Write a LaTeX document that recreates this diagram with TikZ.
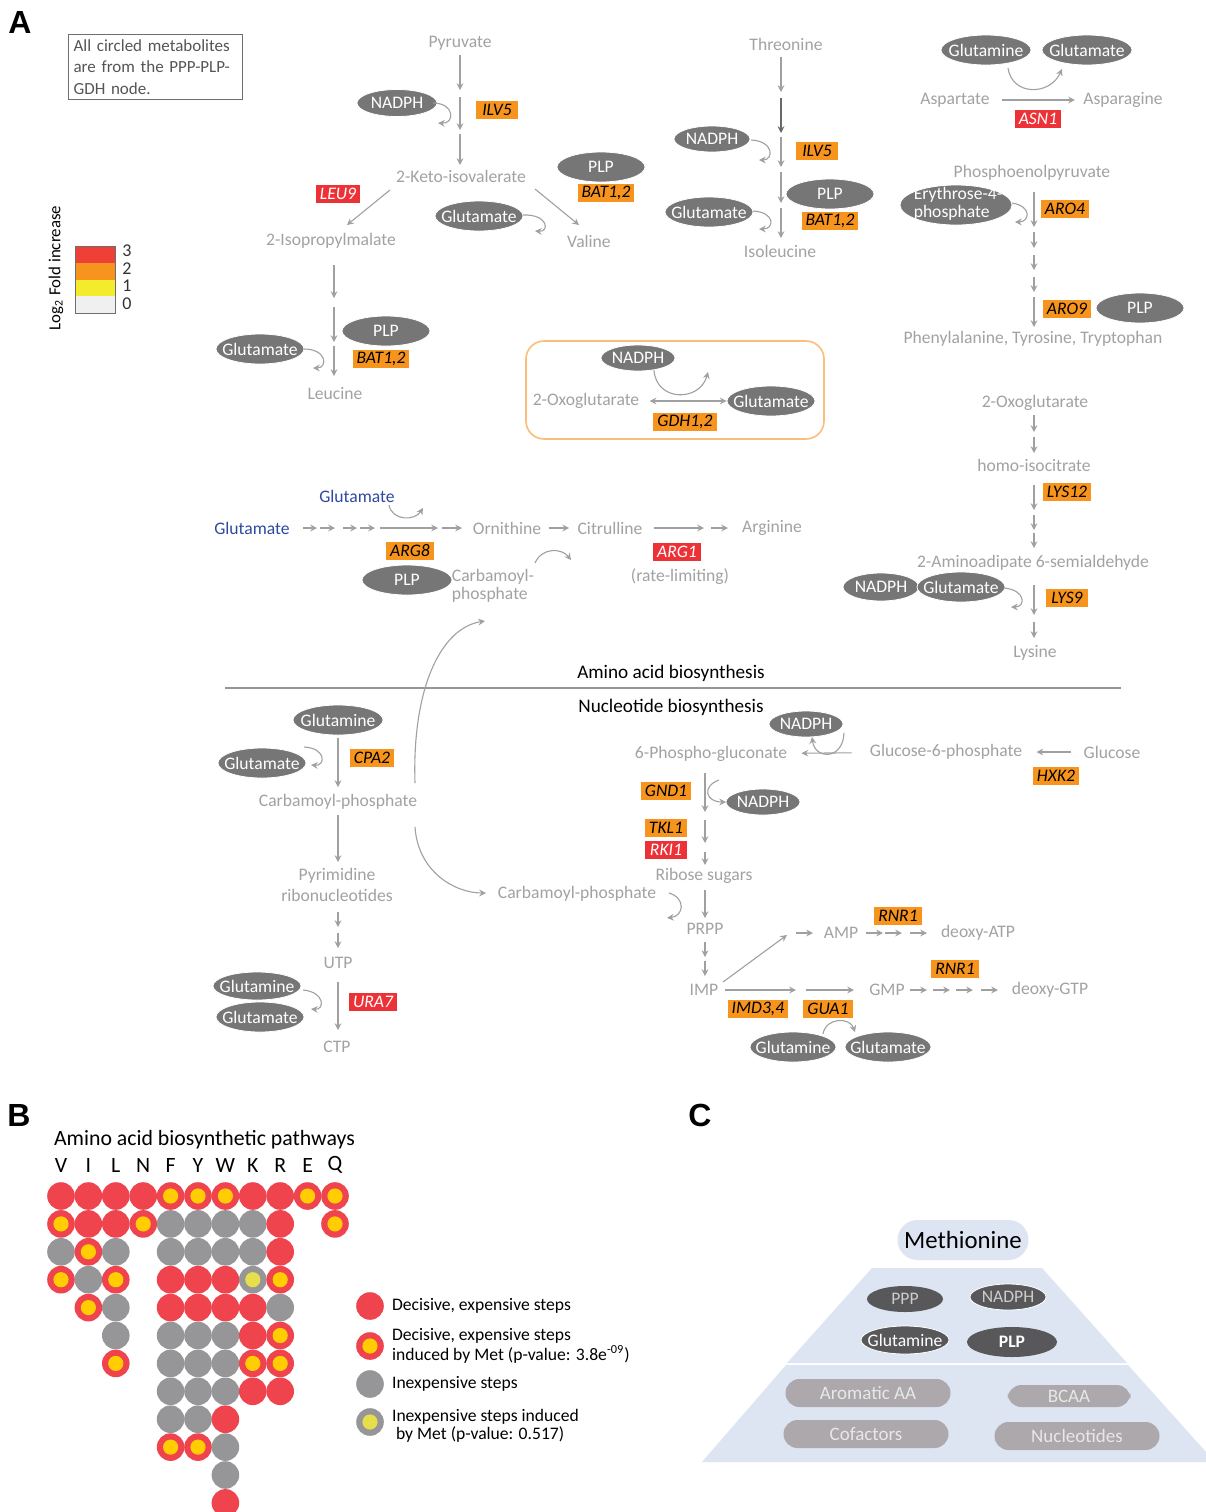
\documentclass[tikz,border=0pt]{standalone}
\usepackage{fontspec}
\setmainfont{Carlito}
\newfontfamily\labfont{Liberation Sans}
\usetikzlibrary{arrows.meta,shapes.geometric}
\definecolor{metgray}{RGB}{162,162,162}
\definecolor{arrgray}{RGB}{160,160,160}
\definecolor{darkarr}{RGB}{105,105,105}
\definecolor{cofgray}{RGB}{118,118,118}
\definecolor{genorange}{RGB}{247,148,30}
\definecolor{genred}{RGB}{237,50,55}
\definecolor{glublue}{RGB}{46,74,160}
\definecolor{boxorange}{RGB}{250,190,120}
\definecolor{notegray}{RGB}{110,110,110}
\definecolor{notetext}{RGB}{85,85,85}
\definecolor{legred}{RGB}{238,64,54}
\definecolor{legyel}{RGB}{245,235,45}
\definecolor{legwhite}{RGB}{240,240,240}
\definecolor{divgray}{RGB}{150,150,150}
\definecolor{bred}{RGB}{239,67,77}
\definecolor{bgray}{RGB}{150,150,152}
\definecolor{byellow}{RGB}{255,205,0}
\definecolor{bpale}{RGB}{230,222,75}
\definecolor{cblue}{RGB}{221,229,243}
\definecolor{cdark}{RGB}{88,88,90}
\definecolor{ctext}{RGB}{205,205,205}
\definecolor{cpill}{RGB}{172,168,172}
\definecolor{cpilltext}{RGB}{232,232,232}
\newcommand{\mfs}{\fontsize{8.8}{9}\selectfont}
\newcommand{\lfs}{\fontsize{8.8}{9}\selectfont}

\begin{document}
\begin{tikzpicture}[x=0.5pt,y=-0.5pt,
  met/.style={text=metgray,font=\mfs,inner sep=1pt},
  cof/.style 2 args={ellipse,fill=cofgray,draw=white,line width=0.4pt,text=white,font=\mfs,
    inner sep=0pt,minimum width=#1*0.5pt,minimum height=#2*0.5pt,
    execute at begin node={\hbox to 0pt\bgroup\hss},execute at end node={\hss\egroup}},
  gene/.style={fill=genorange,font=\mfs\itshape,text=black,inner xsep=2pt,inner ysep=0pt,
    minimum height=9pt,minimum width=21pt},
  gred/.style={gene,fill=genred,text=white},
  rx/.style={draw=arrgray,line width=0.55pt,-{Stealth[length=3.4pt,width=3.4pt,inset=1.2pt]}},
  rxx/.style={rx,{Stealth[length=3.4pt,width=3.4pt,inset=1.2pt]}-{Stealth[length=3.4pt,width=3.4pt,inset=1.2pt]}},
  bR/.style={circle,fill=bred,minimum size=13.8pt,inner sep=0pt},
  bG/.style={bR,fill=bgray},
  bRY/.style={bR,path picture={\fill[byellow] (path picture bounding box.center) circle (3.8pt);}},
  bGY/.style={bG,path picture={\fill[bpale] (path picture bounding box.center) circle (3.8pt);}},
  pill/.style={fill=cpill,rounded corners=7pt,text=cpilltext,font=\fontsize{9.5}{10}\selectfont,inner sep=0pt},
  panel/.style={font=\labfont\bfseries\fontsize{16}{16}\selectfont}]
\useasboundingbox (0,0) rectangle (1206,1512);
\fill[white] (0,0) rectangle (1206,1512);

% ---------------- A ----------------
\node[panel] (labA) at (20,22) {A};
\node[draw=notegray,line width=0.6pt,anchor=north west,text width=82pt,inner xsep=2.5pt,inner ysep=2.5pt,
  align=left,text=notetext,font=\fontsize{8.5}{10.7}\selectfont] (note) at (68,34)
  {All circled metabolites\\are from the PPP-PLP-\\GDH node.};

\fill[legred] (75,246) rectangle (115,263);
\fill[genorange] (75,263) rectangle (115,280);
\fill[legyel] (75,280) rectangle (115,296);
\fill[legwhite] (75,296) rectangle (115,313);
\draw[notegray,line width=0.5pt] (75,246) rectangle (115,313);
\foreach \v/\y in {3/251,2/269,1/286,0/304}
  \node[font=\fontsize{9}{9}\selectfont,text=black!80] (lv\v) at (127,\y) {\v};
\node[rotate=90,font=\fontsize{8.4}{9}\selectfont] (logfc) at (56,268) {Log\textsubscript{2} Fold increase};

\draw[boxorange,line width=0.8pt,rounded corners=9pt] (526,341) rectangle (824,439);

% metabolites
\node[met] (pyr) at (460,43) {Pyruvate};
\node[met] (kiv) at (461,176) {2-Keto-isovalerate};
\node[met] (ipm) at (331,241) {2-Isopropylmalate};
\node[met] (leu) at (335,393) {Leucine};
\node[met] (val) at (589,241) {Valine};
\node[met] (thr) at (786,44) {Threonine};
\node[met] (ile) at (780,251) {Isoleucine};
\node[met] (asp) at (955,100) {Aspartate};
\node[met] (asn) at (1123,100) {Asparagine};
\node[met] (pep) at (1032,173) {Phosphoenolpyruvate};
\node[met] (aro) at (1033,339) {Phenylalanine, Tyrosine, Tryptophan};
\node[met] (oxg) at (586,401) {2-Oxoglutarate};
\node[met] (oxl) at (1035,403) {2-Oxoglutarate};
\node[met] (hic) at (1034,465) {homo-isocitrate};
\node[met] (aas) at (1033,563) {2-Aminoadipate 6-semialdehyde};
\node[met] (lys) at (1035,653) {Lysine};
\node[met,text=glublue] (gluA) at (252,528) {Glutamate};
\node[met,text=glublue] (gluB) at (357,496) {Glutamate};
\node[met] (orn) at (507,528) {Ornithine};
\node[met] (cit) at (610,528) {Citrulline};
\node[met] (arg) at (772,528) {Arginine};
\node[met,align=left] (cpa) at (493,586) {Carbamoyl-\\phosphate};
\node[met] (rate) at (680,577) {(rate-limiting)};

% genes
\node[gene] (g-ilv5a) at (497,110) {ILV5};
\node[gred] (g-leu9) at (338,194) {LEU9};
\node[gene] (g-bat-v) at (606,193) {BAT1,2};
\node[gene] (g-bat-l) at (381,359) {BAT1,2};
\node[gene] (g-ilv5b) at (817,151) {ILV5};
\node[gene] (g-bat-i) at (830,221) {BAT1,2};
\node[gred] (g-asn1) at (1038,119) {ASN1};
\node[gene] (g-aro4) at (1065,209) {ARO4};
\node[gene] (g-aro9) at (1067,309) {ARO9};
\node[gene] (g-gdh) at (685,422) {GDH1,2};
\node[gene] (g-lys12) at (1067,492) {LYS12};
\node[gene] (g-lys9) at (1067,598) {LYS9};
\node[gene] (g-arg8) at (410,551) {ARG8};
\node[gred] (g-arg1) at (677,552) {ARG1};

% cofactors
\node[cof={80}{27}] (nad-kiv) at (397,103) {NADPH};
\node[cof={88}{30}] (plp-val) at (601,167) {PLP};
\node[cof={88}{30}] (glu-val) at (479,216) {Glutamate};
\node[cof={88}{30}] (plp-leu) at (386,331) {PLP};
\node[cof={88}{30}] (glu-leu) at (260,349) {Glutamate};
\node[cof={76}{26}] (nad-ile) at (712,139) {NADPH};
\node[cof={88}{30}] (plp-ile) at (830,194) {PLP};
\node[cof={88}{30}] (glu-ile) at (709,212) {Glutamate};
\node[cof={90}{30}] (gln-asn) at (986,50) {Glutamine};
\node[cof={90}{30}] (glu-asn) at (1087,50) {Glutamate};
\node[cof={112}{40}] (e4p) at (956,205) {};
\node[text=white,font=\mfs,align=left,inner sep=0pt] (e4p-txt) at (958,204) {Erythrose-4-\\phosphate};
\node[cof={88}{30}] (plp-aro) at (1140,308) {PLP};
\node[cof={74}{26}] (nad-gdh) at (638,358) {NADPH};
\node[cof={88}{30}] (glu-gdh) at (771,401) {Glutamate};
\node[cof={76}{28}] (nad-lys) at (881,587) {NADPH};
\node[cof={88}{30}] (glu-lys) at (961,587) {Glutamate};
\node[cof={90}{30}] (plp-arg) at (407,580) {PLP};

% arrows
\foreach \a/\b in {55/90,97/130,134/165} \draw[rx] (460,\a) -- (460,\b);
\draw[rx] (390,190) -- (347,225);
\draw[rx] (535,189) -- (579,225);
\foreach \a/\b in {265/298,307/342,346/376} \draw[rx] (334,\a) -- (334,\b);
\foreach \a/\b in {57/92,137/167,172/203,208/238} \draw[rx] (781,\a) -- (781,\b);
\draw[rx,draw=darkarr] (781,98) -- (781,133);
\draw[rx,shorten <=5pt,shorten >=3pt] (asp) -- (asn);
\foreach \a/\b in {192/227,232/248,255/270,277/292,297/327} \draw[rx] (1034,\a) -- (1034,\b);
\draw[rxx,shorten <=4pt] (oxg) -- (glu-gdh);
\foreach \a/\b in {415/432,437/453,485/510,515/530,533/548,585/615,622/638} \draw[rx] (1034,\a) -- (1034,\b);
\foreach \a/\b in {303/317,320/335,343/357,360/375,380/438,442/462} \draw[rx] (\a,528) -- (\b,528);
\draw[rx,shorten <=2.5pt,shorten >=3pt] (orn) -- (cit);
\foreach \a/\b in {654/704,711/728} \draw[rx] (\a,528) -- (\b,528);

% hooks
\draw[rx] (433,103) .. controls (455,103) and (455,124) .. (438,123);
\draw[rx] (523,215) .. controls (548,214) and (550,232) .. (535,231);
\draw[rx] (304,349) .. controls (327,349) and (328,368) .. (313,368);
\draw[rx] (751,140) .. controls (774,141) and (774,160) .. (759,160);
\draw[rx] (753,211) .. controls (775,212) and (775,229) .. (759,229);
\draw[rx] (1012,203) .. controls (1032,206) and (1030,222) .. (1015,222);
\draw[rx] (1004,588) .. controls (1026,590) and (1026,607) .. (1011,607);
\draw[rx] (654,370) .. controls (656,402) and (700,402) .. (708,372);
\draw[rx] (1008,68) .. controls (1012,96) and (1050,96) .. (1062,69);
\draw[rx] (389,505) .. controls (392,521) and (415,521) .. (423,508);
\draw[rx] (535,563) .. controls (542,547) and (562,548) .. (571,560);

% divider
\node[font=\fontsize{9.6}{10}\selectfont] (aab) at (671,673) {Amino acid biosynthesis};
\draw[divgray,line width=0.8pt] (225,688) -- (1121,688);
\node[font=\fontsize{9.6}{10}\selectfont] (nub) at (671,707) {Nucleotide biosynthesis};

% nucleotides
\node[met] (cp1) at (338,802) {Carbamoyl-phosphate};
\node[met,align=center,font=\fontsize{8.8}{10.5}\selectfont] (pyn) at (337,885) {Pyrimidine\\ribonucleotides};
\node[met] (utp) at (338,963) {UTP};
\node[met] (ctp) at (337,1047) {CTP};
\node[met] (cp2) at (577,894) {Carbamoyl-phosphate};
\node[met] (pgl) at (711,754) {6-Phospho-gluconate};
\node[met] (g6p) at (946,752) {Glucose-6-phosphate};
\node[met] (glc) at (1112,752) {Glucose};
\node[met] (rib) at (704,876) {Ribose sugars};
\node[met] (prpp) at (705,929) {PRPP};
\node[met] (imp) at (704,990) {IMP};
\node[met] (amp) at (841,933) {AMP};
\node[met] (datp) at (978,933) {deoxy-ATP};
\node[met] (gmp) at (887,990) {GMP};
\node[met] (dgtp) at (1050,990) {deoxy-GTP};

\node[gene] (g-cpa2) at (372,758) {CPA2};
\node[gred] (g-ura7) at (373,1002) {URA7};
\node[gene] (g-gnd1) at (666,791) {GND1};
\node[gene] (g-tkl1) at (666,828) {TKL1};
\node[gred] (g-rki1) at (666,850) {RKI1};
\node[gene] (g-hxk2) at (1056,776) {HXK2};
\node[gene] (g-rnr1a) at (898,916) {RNR1};
\node[gene] (g-rnr1b) at (955,969) {RNR1};
\node[gene] (g-imd) at (758,1009) {IMD3,4};
\node[gene] (g-gua1) at (828,1009) {GUA1};

\node[cof={90}{30}] (gln-cpa) at (338,720) {Glutamine};
\node[cof={88}{30}] (glu-cpa) at (262,763) {Glutamate};
\node[cof={88}{28}] (gln-ura) at (257,986) {Glutamine};
\node[cof={88}{30}] (glu-ura) at (260,1017) {Glutamate};
\node[cof={74}{26}] (nad-pgl) at (806,724) {NADPH};
\node[cof={74}{26}] (nad-gnd) at (763,802) {NADPH};
\node[cof={86}{30}] (gln-gua) at (793,1047) {Glutamine};
\node[cof={86}{30}] (glu-gua) at (888,1047) {Glutamate};

\draw[rx] (338,738) -- (338,787);
\draw[rx] (338,815) -- (338,862);
\foreach \a/\b in {912/927,933/948} \draw[rx] (338,\a) -- (338,\b);
\draw[rx] (338,982) -- (338,1030);
\draw[rx,shorten <=8pt,shorten >=6pt] (g6p) -- (pgl);
\draw[rx,shorten <=5pt,shorten >=6pt] (glc) -- (g6p);
\foreach \a/\b in {773/812,820/843,852/865,890/918,942/957,961/976} \draw[rx] (705,\a) -- (705,\b);
\draw[rx] (723,982) -- (787,935);
\foreach \a/\b in {796/813,866/883,885/902,910/927} \draw[rx] (\a,933) -- (\b,933);
\foreach \a/\b in {725/796,806/854,910/927,933/950,956/973,981/998} \draw[rx] (\a,990) -- (\b,990);

\draw[rx] (304,747) .. controls (326,748) and (326,766) .. (311,765);
\draw[rx] (303,990) .. controls (325,992) and (325,1010) .. (311,1009);
\draw[rx] (844,733) .. controls (843,760) and (815,760) .. (812,737);
\draw[rx] (719,780) .. controls (702,786) and (705,802) .. (726,802);
\draw[rx] (669,893) .. controls (686,898) and (684,916) .. (667,918);
\draw[rx] (823,1034) .. controls (826,1017) and (850,1017) .. (855,1032);
\draw[rx] (415,783) .. controls (412,690) and (440,628) .. (485,621);
\draw[rx] (415,827) .. controls (418,872) and (455,893) .. (486,893);

% ---------------- B ----------------
\node[panel] (labB) at (19,1115) {B};
\node[anchor=west,font=\fontsize{10.9}{11}\selectfont] (btitle) at (47,1140) {Amino acid biosynthetic pathways};
\foreach \col/\lst [count=\i from 0] in {V/{bR,bRY,bG,bRY},I/{bR,bR,bRY,bG,bRY},L/{bR,bR,bG,bRY,bG,bG,bRY},
    N/{bR,bRY},F/{bRY,bG,bG,bR,bR,bG,bG,bG,bG,bRY},Y/{bRY,bG,bG,bR,bR,bG,bG,bG,bG,bRY},
    W/{bRY,bG,bG,bR,bR,bG,bG,bG,bR,bG,bG,bR},K/{bR,bG,bG,bGY,bR,bR,bRY,bR},
    R/{bR,bR,bR,bRY,bG,bRY,bRY,bR},E/{bRY},Q/{bRY,bRY}}{
  \node[font=\fontsize{10.9}{11}\selectfont] (aa-\col) at (61+27.4*\i,1165) {\col};
  \foreach \t [count=\j from 0] in \lst
    \node[\t] (st-\col-\j) at (61+27.4*\i,1196+27.9*\j) {};
}
\node[bR] (lg1) at (370,1306) {};
\node[bRY] (lg2) at (370,1346) {};
\node[bG] (lg3) at (370,1384) {};
\node[bGY] (lg4) at (370,1422) {};
\node[anchor=west,font=\lfs] (lt1) at (385,1306) {Decisive, expensive steps};
\node[anchor=west,align=left,font=\lfs] (lt2) at (385,1346) {Decisive, expensive steps\\induced by Met (p-value: 3.8e\textsuperscript{-09})};
\node[anchor=west,font=\lfs] (lt3) at (385,1384) {Inexpensive steps};
\node[anchor=west,align=left,font=\lfs] (lt4) at (385,1426) {Inexpensive steps induced\\\hspace{2pt}by Met (p-value: 0.517)};

% ---------------- C ----------------
\node[panel] (labC) at (700,1115) {C};
\fill[cblue] (872,1268) -- (1042,1268) -- (1127,1363) -- (787,1363) -- cycle;
\fill[cblue] (786,1365) -- (1128,1365) -- (1215,1462) -- (702,1462) -- cycle;
\node[fill=cblue,rounded corners=10pt,minimum width=65.5pt,minimum height=20pt,inner sep=0pt,
  font=\fontsize{12.4}{13}\selectfont] (meth) at (963,1240) {Methionine};
\node[cof={76}{26},fill=cdark,draw=none,text=ctext] (ppp) at (905,1299) {PPP};
\node[cof={76}{26},fill=cdark,text=ctext] (nad-c) at (1008,1297) {NADPH};
\node[cof={88}{28},fill=cdark] (gln-c) at (905,1340) {Glutamine};
\node[cof={90}{30},fill=cdark,draw=none,font=\mfs\bfseries] (plp-c) at (1012,1342) {PLP};
\node[pill,minimum width=82.5pt,minimum height=14pt] (aaa) at (868,1393) {Aromatic AA};
\node[pill,minimum width=61.5pt,minimum height=11pt] (bcaa) at (1069,1396) {BCAA};
\node[pill,minimum width=82.5pt,minimum height=14pt] (cofac) at (866,1434) {Cofactors};
\node[pill,minimum width=82.5pt,minimum height=14pt] (nucl) at (1077,1436) {Nucleotides};
\end{tikzpicture}
\end{document}
